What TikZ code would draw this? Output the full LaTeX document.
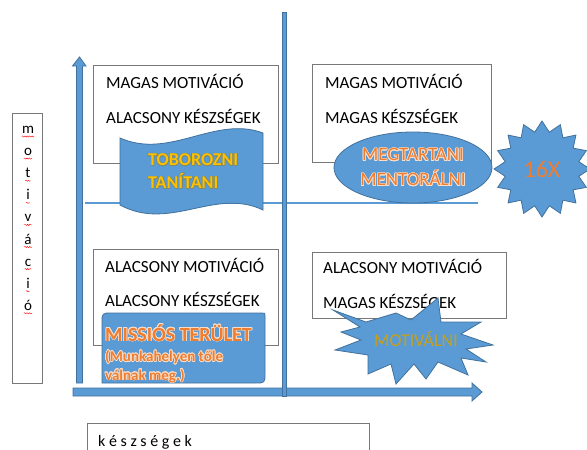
\documentclass[tikz,border=0pt]{standalone}
\usepackage{fontspec}
\setmainfont{Carlito}
\usepackage{tikz}
\usepackage{contour}
\usetikzlibrary{shapes.geometric}
\usetikzlibrary{decorations.pathmorphing}
\definecolor{ColBlue}{RGB}{91,155,213}
\definecolor{ColEdge}{RGB}{65,113,156}
\definecolor{ColGold}{RGB}{255,192,0}
\definecolor{ColOrange}{RGB}{237,125,49}
\definecolor{ColOchre}{RGB}{201,160,20}
\definecolor{ColFrame}{RGB}{120,120,120}
\definecolor{ColGlow}{RGB}{250,222,200}
\contourlength{0.7pt}
\tikzstyle{QuadBox}=[draw=ColFrame,line width=0.9pt]
\tikzstyle{QuadText}=[anchor=base west,inner sep=0pt,font=\fontsize{17}{20}\selectfont]
\tikzstyle{BlueShape}=[fill=ColBlue,draw=ColEdge,line width=0.8pt]
\tikzstyle{Squiggle}=[red,line width=0.4pt,decorate,decoration={snake,amplitude=0.6pt,segment length=2.4pt}]

\begin{document}
\begin{tikzpicture}[x=1pt,y=-1pt]
        \useasboundingbox[fill=white](0,0)rectangle(587,450);
        \draw[QuadBox](12,113)rectangle(42,383);
        \foreach \l [count=\i from 0] in {m,o,t,i,v,á,c,i,ó}{
            \node[inner sep=0pt,anchor=base,font=\fontsize{15}{18}\selectfont](L\i)at(28,133.5+22.1*\i){\l};
            \draw[Squiggle]([yshift=-3pt]L\i.base west)--([yshift=-3pt]L\i.base east);
        }
        \draw[QuadBox](87,452)--(87,423)--(369,423)--(369,452);
        \node[QuadText,font=\fontsize{16}{19}\selectfont](skill)at(98,446){k é s z s é g e k};
        \draw[ColBlue,line width=1.6pt](85,203)--(478,203);
        \draw[BlueShape](73,388)--(472,388)--(472,383)--(482,392)--(472,401)--(472,396)--(73,396)--cycle;
        \draw[BlueShape](76.5,383)--(76.5,66)--(72.5,66)--(79.5,57)--(86,66)--(82.5,66)--(82.5,383)--cycle;
        \draw[BlueShape](282.5,12)rectangle(286.5,396);
        \draw[QuadBox](93,65)rectangle(278,163);
        \draw[QuadBox](312,64)rectangle(491,162);
        \draw[QuadBox](93,249)rectangle(278,345);
        \draw[QuadBox](312,252)rectangle(506,318);
        \node[QuadText](tlA)at(106,88){MAGAS MOTIVÁCIÓ};
        \node[QuadText](tlB)at(106,123){ALACSONY KÉSZSÉGEK};
        \node[QuadText](trA)at(325,88){MAGAS MOTIVÁCIÓ};
        \node[QuadText](trB)at(325,123){MAGAS KÉSZSÉGEK};
        \node[QuadText](blA)at(105,272.5){ALACSONY MOTIVÁCIÓ};
        \node[QuadText](blB)at(105,306.5){ALACSONY KÉSZSÉGEK};
        \node[QuadText](brA)at(323,273.5){ALACSONY MOTIVÁCIÓ};
        \node[QuadText](brB)at(323,308.5){MAGAS KÉSZSÉGEK};
        \draw[BlueShape](120,138)..controls(170,160)and(215,115)..(263,133)--(263,210)
            ..controls(215,187)and(170,232)..(120,205)--cycle;
        \node[anchor=west,align=left,inner sep=0pt,text=ColGold,font=\bfseries\fontsize{18}{23}\selectfont](recruit)
            at(148,171.5){\contourlength{0.4pt}\contour{ColEdge!70!ColGold}{TOBOROZNI}\\\contourlength{0.4pt}\contour{ColEdge!70!ColGold}{TANÍTANI}};
        \node[BlueShape,ellipse,minimum width=158pt,minimum height=71pt,inner sep=0pt,align=center,
            text=ColOrange,font=\fontsize{19}{25}\selectfont](keep)
            at(413,167.5){\contour{ColGlow}{MEGTARTANI}\\\contour{ColGlow}{MENTORÁLNI}};
        \node[BlueShape,star,star points=16,star point ratio=1.28,minimum size=96pt,inner sep=0pt,
            text=ColOrange,font=\fontsize{24}{28}\selectfont](times)at(542,169){16X};
        \draw[BlueShape](102,383)--(102,323)..controls(102,313)..(112,313)--(262,313)
            ..controls(265,313)..(265,316)--(265,373)..controls(265,383)..(255,383)--cycle;
        \node[QuadText,text=ColOrange,font=\bfseries\fontsize{20}{24}\selectfont](mission)
            at(105,341){\contour{ColGlow}{MISSIÓS TERÜLET}};
        \node[QuadText,text=ColOrange,font=\bfseries\fontsize{15}{18}\selectfont](place)
            at(105,361.5){\contour{ColGlow}{(Munkahelyen tőle}};
        \node[QuadText,text=ColOrange,font=\bfseries\fontsize{15}{18}\selectfont](leave)
            at(105,380){\contour{ColGlow}{válnak meg.)}};
        \draw[BlueShape](333,310)--(366,322)--(396,313)--(411,320)--(438,298)--(441,322)--(481,322)
            --(461,334)--(493,345)--(466,349)--(486,362)--(461,358)--(468,375)--(438,362)--(426,379)
            --(414,364)--(396,384)--(391,364)--(368,374)--(368,355)--(335,350)--(361,340)--(341,332)
            --(360,327)--cycle;
        \node[inner sep=0pt,text=ColOchre,font=\fontsize{18}{22}\selectfont](motivate)at(416,339){MOTIVÁLNI};
    \end{tikzpicture}
\end{document}
